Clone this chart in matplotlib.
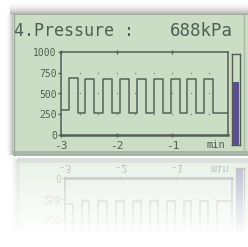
import matplotlib
matplotlib.use('Agg')
import matplotlib.pyplot as plt
import numpy as np
from matplotlib.patches import Rectangle

W, H = 248, 247

# screen texts
title_left = '4.Pressure :'
title_right = '688kPa'
x_unit = 'min'
y_ticks = [0, 250, 500, 750, 1000]
x_ticks = [-3, -2, -1]
x_tick_labels = ['-3', '-2', '-1']

# gauge reading (kPa, full scale 1000)
gauge_value = 688

# square wave trend: time of each change (min) and level after it (kPa)
wave_t = [-3.0, -2.86, -2.70, -2.57, -2.41, -2.25, -2.08, -1.94, -1.78, -1.64,
          -1.47, -1.33, -1.17, -1.03, -0.86, -0.74, -0.58, -0.43, -0.27, 0.0]
wave_v = [300, 690, 270, 680, 270, 680, 265, 680, 270, 680,
          265, 680, 270, 675, 270, 680, 265, 680, 270, 270]

# dotted grid on the lcd
grid_x = [-3 + k / 3 for k in range(1, 9)]
grid_y = [250, 500, 750]

lcd = '#c9dec4'
ink = '#535d55'

fig = plt.figure(figsize=(W / 100, H / 100), dpi=100)
fig.patch.set_facecolor('white')

# background in pixel coords
bg = fig.add_axes([0, 0, 1, 1])
bg.set_xlim(0, W)
bg.set_ylim(H, 0)
bg.axis('off')

# soft shadow above and left of the panel
shade = np.linspace(0, 1, 14) ** 2
top = np.ones((14, 1, 3)) * (1 - 0.33 * shade)[:, None, None]
bg.imshow(top, extent=(10, W, 15, 1), aspect='auto', interpolation='bilinear')
side = np.ones((1, 8, 3)) * (1 - 0.25 * np.linspace(0, 1, 8) ** 2)[None, :, None]
bg.imshow(side, extent=(5, 13, 155, 15), aspect='auto', interpolation='bilinear')

bg.add_patch(Rectangle((13, 15), W - 13, 140, facecolor=lcd, edgecolor='none'))
bg.add_patch(Rectangle((13, 151), W - 13, 5, facecolor='#a9b8a6', edgecolor='none'))
bg.plot([13.5, 13.5], [15, 155], color='#9eaa9c', lw=1)
bg.plot([244, 244], [15, 152], color='#aab8a7', lw=1)
bg.set_xlim(0, W)
bg.set_ylim(H, 0)

fig.text(14 / W, 1 - 31 / H, title_left, fontsize=12, family='DejaVu Sans Mono',
         color=ink, va='center', ha='left')
fig.text(233 / W, 1 - 31 / H, title_right, fontsize=12.5, family='DejaVu Sans Mono',
         color=ink, va='center', ha='right')

# trend plot
ax = fig.add_axes([61 / W, 1 - 135 / H, 167 / W, 83 / H])
ax.set_facecolor('none')
ax.step(wave_t, wave_v, where='post', color='#58625a', lw=1.1)
gx, gy = np.meshgrid(grid_x, grid_y)
ax.scatter(gx.ravel(), gy.ravel(), s=1.2, color='#7f8b80', linewidths=0)
ax.set_xlim(-3, 0)
ax.set_ylim(0, 1000)
for sp in ax.spines.values():
    sp.set_color(ink)
    sp.set_linewidth(1.1)
ax.spines['bottom'].set_linewidth(1.8)
ax.set_yticks(y_ticks)
ax.set_yticklabels([str(v) for v in y_ticks], family='DejaVu Sans Mono')
ax.set_xticks(x_ticks)
ax.set_xticklabels(x_tick_labels, family='DejaVu Sans Mono')
ax.tick_params(axis='y', length=2, width=1, colors=ink, labelsize=7, pad=1)
ax.tick_params(axis='x', length=3, width=1, colors=ink, labelsize=8, pad=2.5,
               top=True, direction='inout')
ax.text(-0.05, -115, x_unit, fontsize=7.5, family='DejaVu Sans Mono', color=ink,
        ha='right', va='center')

# bar gauge on the right
gax = fig.add_axes([232 / W, 1 - 145 / H, 8 / W, 91 / H])
gax.set_facecolor('none')
gax.bar([0], [gauge_value], width=0.8, color='#5b4d90')
gax.set_xlim(-0.5, 0.5)
gax.set_ylim(0, 1000)
gax.set_xticks([])
gax.set_yticks([])
for sp in gax.spines.values():
    sp.set_color(ink)
    sp.set_linewidth(1)

# mirror reflection below the screen
fig.canvas.draw()
img = np.asarray(fig.canvas.buffer_rgba())[:, :, :3].astype(float) / 255
mirror = 157
n = H - mirror
src = img[mirror - n:mirror][::-1]
src = np.roll(src, 4, axis=1)
src[:, :4] = 1
d = np.arange(n)
alpha = np.clip(0.42 * (1 - d / 78), 0, 1)[:, None, None]
refl = 1 - alpha * (1 - src)
fig.figimage(refl, xo=0, yo=0, origin='upper', zorder=5)

fig.savefig('out.png', dpi=100, facecolor='white')
